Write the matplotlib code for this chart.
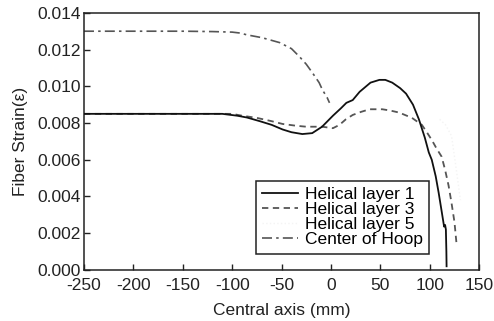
import matplotlib
matplotlib.use("Agg")
import matplotlib.pyplot as plt
from matplotlib.ticker import FormatStrFormatter, MultipleLocator

plt.rcParams['font.family'] = ['Liberation Sans', 'DejaVu Sans']
plt.rcParams['axes.unicode_minus'] = False

x_layer1 = [-250, -200, -150, -110, -95, -85, -72, -60, -49, -40, -29, -19, -9, 2, 10,
            15.6, 22, 29, 40, 49, 55, 62, 70, 76, 83, 89, 95, 99, 102, 106, 109, 112,
            114.5, 115.5, 116.3, 116.8, 117]
y_layer1 = [0.0085, 0.0085, 0.0085, 0.0085, 0.0084, 0.0083, 0.0081, 0.0079, 0.00765,
            0.0075, 0.0074, 0.00745, 0.0078, 0.0084, 0.0088, 0.0091, 0.00925, 0.0097,
            0.0102, 0.01035, 0.01035, 0.0102, 0.0099, 0.0096, 0.0090, 0.0082, 0.0072,
            0.0064, 0.0060, 0.0051, 0.0042, 0.0032, 0.00236, 0.00245, 0.0022, 0.0010, 0.0002]

x_layer3 = [-250, -150, -100, -90, -75, -60, -49, -35, -25, -9, 2, 8.6, 15, 22, 30, 39,
            52, 60, 69, 82, 92, 97, 102, 107, 112, 115.5, 119, 122, 125, 127, 128]
y_layer3 = [0.0085, 0.0085, 0.0085, 0.0084, 0.00828, 0.0081, 0.00795, 0.00785, 0.0078,
            0.0078, 0.00772, 0.0079, 0.0082, 0.00844, 0.0086, 0.00875, 0.00875, 0.00868,
            0.00857, 0.00828, 0.0079, 0.0075, 0.00708, 0.0066, 0.00617, 0.00545, 0.0046,
            0.00365, 0.0026, 0.00147, 0.0013]

x_layer5 = [110, 116, 122, 126, 130, 131]
y_layer5 = [0.0082, 0.0079, 0.0073, 0.0058, 0.0042, 0.0038]

x_hoop = [-250, -150, -120, -100, -92, -85, -70, -52, -40, -32, -25, -18.7, -12, -8.6, -4, -1.5]
y_hoop = [0.0130, 0.0130, 0.01298, 0.01295, 0.0129, 0.0128, 0.01265, 0.01238, 0.01205,
          0.01162, 0.0112, 0.01073, 0.0102, 0.0098, 0.0094, 0.0091]

labels = ["Helical layer 1", "Helical layer 3", "Helical layer 5", "Center of Hoop"]
x_ticks = [-250, -200, -150, -100, -50, 0, 50, 100, 150]

FS = 12.5
fig = plt.figure(figsize=(4.94, 3.21), dpi=100)
ax = fig.add_axes([0.170, 0.159, 0.800, 0.801])

ax.plot(x_layer5, y_layer5, color='#f4f4f4', lw=1.0, ls=':', label=labels[2], zorder=1)
ax.plot(x_layer1, y_layer1, color='#111111', lw=1.3, ls='-', label=labels[0], zorder=3)
ax.plot(x_layer3, y_layer3, color='#555555', lw=1.3, ls=(0, (3.5, 2.5)), label=labels[1], zorder=2)
ax.plot(x_hoop, y_hoop, color='#555555', lw=1.2, ls=(0, (6, 2.5, 1.5, 2.5)), label=labels[3], zorder=2)

ax.set_xlim(-250, 150)
ax.set_ylim(0, 0.014)
ax.set_xticks(x_ticks)
ax.yaxis.set_major_locator(MultipleLocator(0.002))
ax.yaxis.set_major_formatter(FormatStrFormatter('%.3f'))
ax.tick_params(direction='in', length=4, width=1, labelsize=FS, top=False, right=False,
               colors='#222222')
ax.tick_params(axis='x', pad=6)
ax.tick_params(axis='y', pad=2)
for s in ax.spines.values():
    s.set_linewidth(1.1)
    s.set_color('#222222')

ax.set_xlabel("Central axis (mm)", fontsize=FS, color='#222222', labelpad=7)
ax.set_ylabel("Fiber Strain(ε)", fontsize=FS, color='#222222', labelpad=7)

h, l = ax.get_legend_handles_labels()
order = [1, 2, 0, 3]
leg = ax.legend([h[i] for i in order], [l[i] for i in order],
                loc='lower left', bbox_to_anchor=(0.435, 0.064), fontsize=FS,
                frameon=True, fancybox=False, edgecolor='#222222', framealpha=1,
                handlelength=2.1, handletextpad=0.35, labelspacing=0.0,
                borderpad=0.35, borderaxespad=0)
leg.get_frame().set_linewidth(1.1)

fig.savefig("out.png", dpi=100)
